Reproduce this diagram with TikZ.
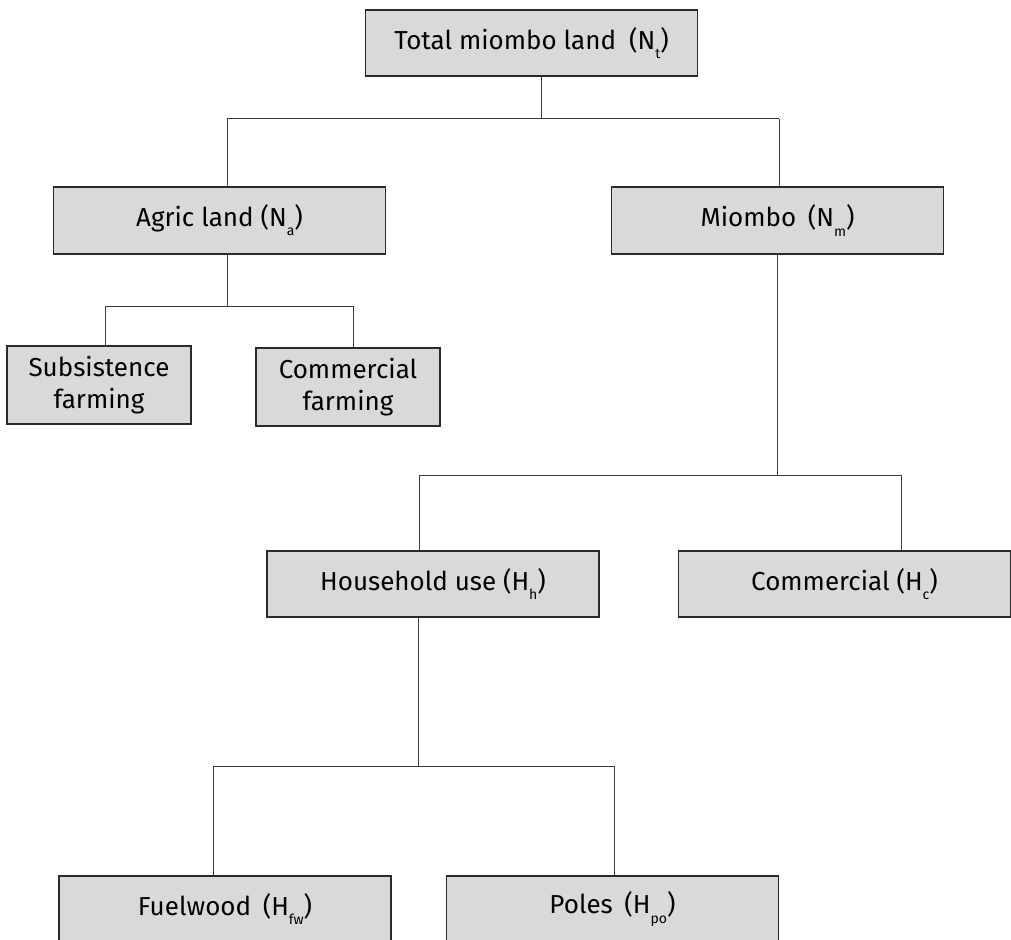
\documentclass[tikz,border=0pt]{standalone}
\usepackage{fontspec}
\setmainfont{Fira Sans}
\definecolor{boxfill}{HTML}{D9D9D9}
\definecolor{boxline}{HTML}{2A2A2A}
\definecolor{linkline}{HTML}{3A3A3A}
\newcommand\lsub[1]{\raisebox{-0.35em}{\fontsize{14}{14}\selectfont #1}}
\begin{document}
\begin{tikzpicture}[x=1pt,y=-1pt,
  box/.style={draw=boxline, line width=1.3pt, fill=boxfill, rectangle, inner sep=0pt,
    minimum width=332pt, minimum height=66pt, font=\fontsize{26}{30}\selectfont},
  smallbox/.style={box, minimum width=184pt, minimum height=78pt, align=center,
    font=\fontsize{26}{32}\selectfont},
  link/.style={draw=linkline, line width=1pt}]
\useasboundingbox (0,0) rectangle (1011,939);
\clip (0,0) rectangle (1011,939);
% nodes
\node[box] (tot) at (531.5,43) {Total miombo land\hspace{0.5em}(N\lsub{t})};
\node[box, minimum height=67pt] (agr) at (219.5,220.5) {Agric land (N\lsub{a})};
\node[box, minimum height=67pt] (mio) at (777.5,220.5) {Miombo\hspace{0.45em}(N\lsub{m})};
\node[smallbox] (sub) at (99,385) {Subsistence\\farming};
\node[smallbox] (cfa) at (348,387) {Commercial\\farming};
\node[box] (hh) at (433,584) {Household use (H\lsub{h})};
\node[box] (hc) at (844.5,584) {Commercial (H\lsub{c})};
\node[box] (fw) at (225,909) {Fuelwood\hspace{0.45em}(H\lsub{fw})};
\node[box] (po) at (612.5,909) {Poles\hspace{0.45em}(H\lsub{po})};
% junctions
\coordinate (j1) at (541,119);
\coordinate (j1l) at (227,119);
\coordinate (j1r) at (779,119);
\coordinate (j2) at (227,306);
\coordinate (j2l) at (105,306);
\coordinate (j2r) at (353,306);
\coordinate (j3) at (777,475);
\coordinate (j3l) at (419,475);
\coordinate (j3r) at (901,475);
\coordinate (j4) at (418,766);
\coordinate (j4l) at (213,766);
\coordinate (j4r) at (614,766);
% connectors
\draw[link] (tot.south -| j1) -- (j1);
\draw[link] (j1l) -- (j1r);
\draw[link] (j1l) -- (agr.north -| j1l);
\draw[link] (j1r) -- (mio.north -| j1r);
\draw[link] (agr.south -| j2) -- (j2);
\draw[link] (j2l) -- (j2r);
\draw[link] (j2l) -- (sub.north -| j2l);
\draw[link] (j2r) -- (cfa.north -| j2r);
\draw[link] (mio.south -| j3) -- (j3);
\draw[link] (j3l) -- (j3r);
\draw[link] (j3l) -- (hh.north -| j3l);
\draw[link] (j3r) -- (hc.north -| j3r);
\draw[link] (hh.south -| j4) -- (j4);
\draw[link] (j4l) -- (j4r);
\draw[link] (j4l) -- (fw.north -| j4l);
\draw[link] (j4r) -- (po.north -| j4r);
\end{tikzpicture}
\end{document}
